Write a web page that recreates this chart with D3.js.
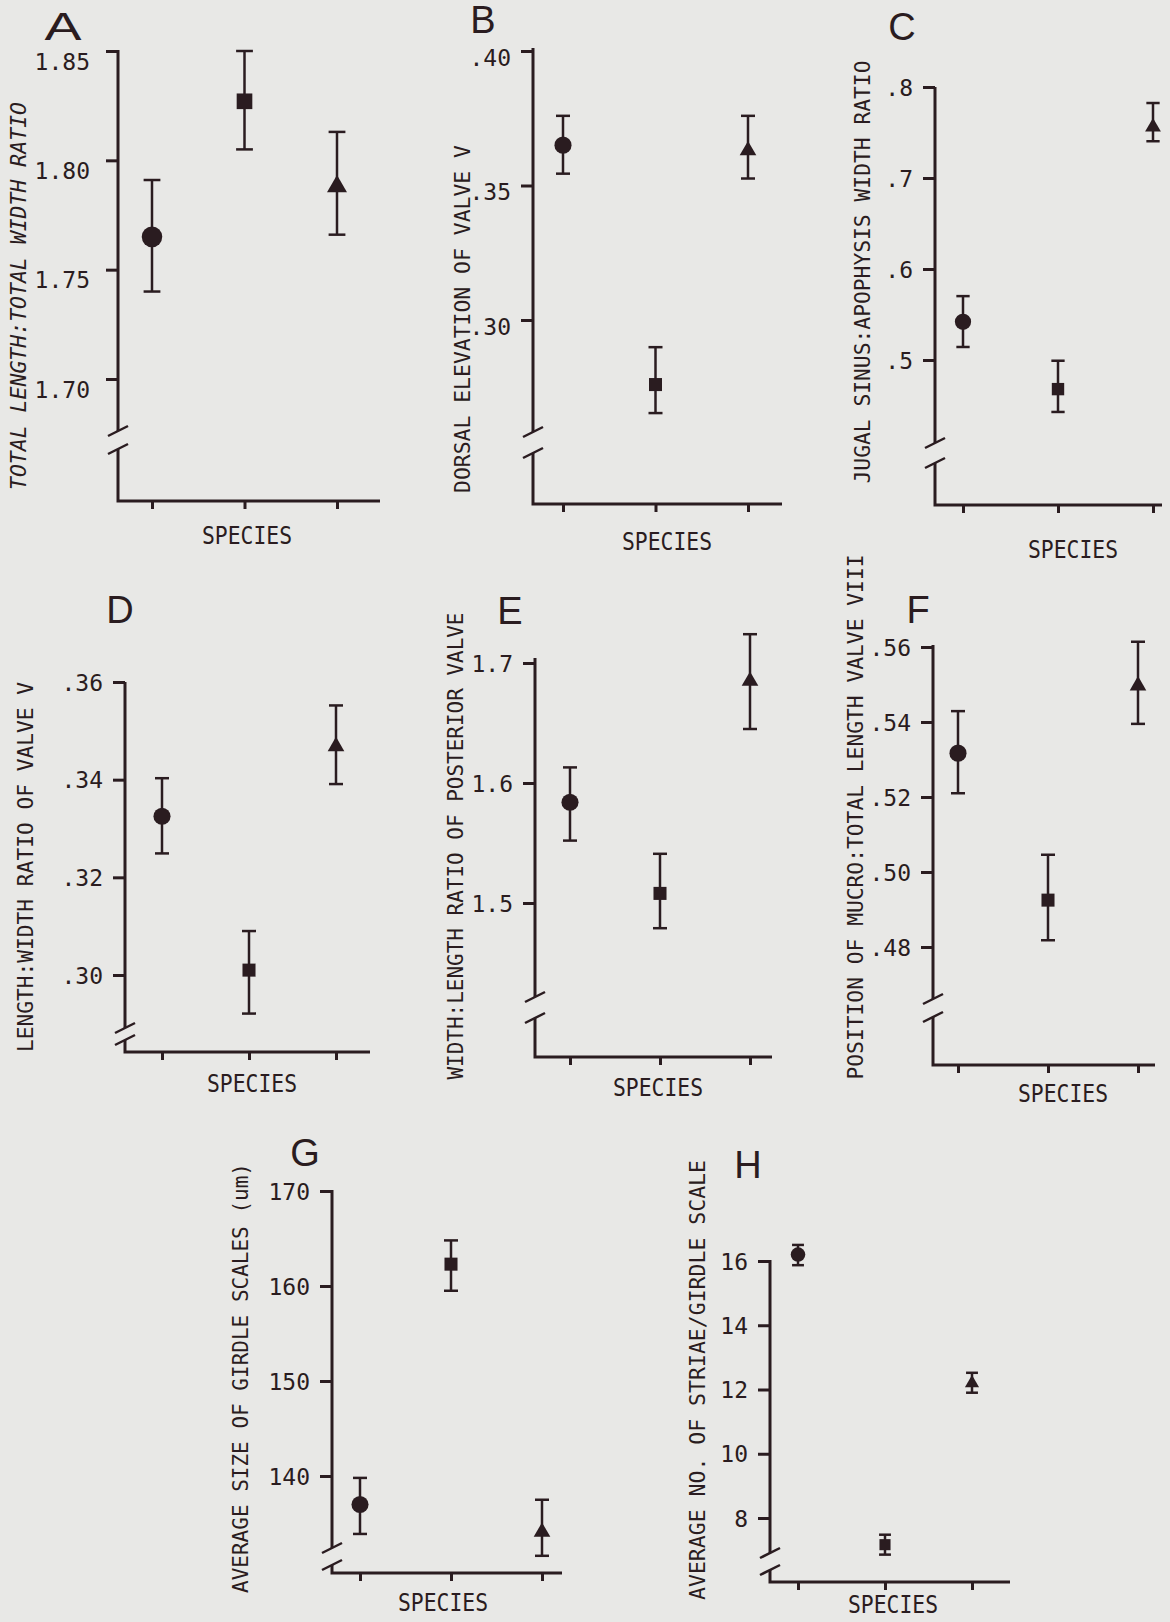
<!DOCTYPE html>
<html>
<head>
<meta charset="utf-8">
<script src="https://cdn.jsdelivr.net/npm/d3@7"></script>
<style>
    body { margin: 0; background: #e8e8e6; }
    svg { display: block; }
</style>
</head>
<body>
<div id="figure"></div>
<script>

// Data (three species per panel: circle, square, triangle)
const speciesNames = ["Species 1", "Species 2", "Species 3"];
const speciesShapes = ["circle", "square", "triangle"];
const panelLetters = ["A", "B", "C", "D", "E", "F", "G", "H"];
const yTitles = [
    "TOTAL LENGTH:TOTAL WIDTH RATIO",
    "DORSAL ELEVATION OF VALVE V",
    "JUGAL SINUS:APOPHYSIS WIDTH RATIO",
    "LENGTH:WIDTH RATIO OF VALVE V",
    "WIDTH:LENGTH RATIO OF POSTERIOR VALVE",
    "POSITION OF MUCRO:TOTAL LENGTH VALVE VIII",
    "AVERAGE SIZE OF GIRDLE SCALES (um)",
    "AVERAGE NO. OF STRIAE/GIRDLE SCALE"
];
const xTitle = "SPECIES";
const yTickValues = [
    [1.70, 1.75, 1.80, 1.85],
    [0.30, 0.35, 0.40],
    [0.5, 0.6, 0.7, 0.8],
    [0.30, 0.32, 0.34, 0.36],
    [1.5, 1.6, 1.7],
    [0.48, 0.50, 0.52, 0.54, 0.56],
    [140, 150, 160, 170],
    [8, 10, 12, 14, 16]
];
const yTickLabels = [
    ["1.70", "1.75", "1.80", "1.85"],
    [".30", ".35", ".40"],
    [".5", ".6", ".7", ".8"],
    [".30", ".32", ".34", ".36"],
    ["1.5", "1.6", "1.7"],
    [".48", ".50", ".52", ".54", ".56"],
    ["140", "150", "160", "170"],
    ["8", "10", "12", "14", "16"]
];
const means = [
    [1.765, 1.827, 1.788],
    [0.365, 0.276, 0.363],
    [0.542, 0.468, 0.756],
    [0.3325, 0.301, 0.3468],
    [1.584, 1.508, 1.685],
    [0.5317, 0.4925, 0.5497],
    [137.0, 162.3, 134.1],
    [16.2, 7.17, 12.2]
];
const lowerBars = [
    [1.740, 1.805, 1.766],
    [0.3544, 0.2654, 0.3526],
    [0.5143, 0.4429, 0.7404],
    [0.3249, 0.2921, 0.3391],
    [1.552, 1.479, 1.645],
    [0.521, 0.4818, 0.5395],
    [133.9, 159.5, 131.6],
    [15.87, 6.86, 11.9]
];
const upperBars = [
    [1.791, 1.850, 1.813],
    [0.3759, 0.2899, 0.3759],
    [0.5702, 0.4992, 0.7824],
    [0.3403, 0.309, 0.3552],
    [1.613, 1.541, 1.724],
    [0.5429, 0.5046, 0.5614],
    [139.8, 164.8, 137.5],
    [16.5, 7.48, 12.52]
];

// Page layout of each panel (pixels)
const layout = [
    {axisX: 118, top: 50, base: 501, right: 380, brk: [431, 449], cats: [152, 337], yPix: [379, 51],
        letter: [63, 27], letterW: 37, titleX: 18, titleY: 296, titleLen: 388, italic: true,
        species: [247, 535], tickDy: 10, tickPad: 16, mark: 1.2},
    {axisX: 533, top: 48, base: 504, right: 782, brk: [432, 453], cats: [563, 748], yPix: [320, 51],
        letter: [483, 20], titleX: 462, titleY: 319, titleLen: 348, species: [667, 541], tickDy: 6, mark: 1},
    {axisX: 935, top: 87, base: 505, right: 1162, brk: [443, 463], cats: [963, 1153], yPix: [360, 87],
        letter: [902, 27], titleX: 862, titleY: 272, titleLen: 423, species: [1073, 549], mark: 0.95},
    {axisX: 125, top: 682, base: 1052, right: 370, brk: [1028, 1040], cats: [162, 336], yPix: [975, 682],
        letter: [120, 610], titleX: 25, titleY: 867, titleLen: 370, species: [252, 1083], mark: 1},
    {axisX: 535, top: 658, base: 1057, right: 772, brk: [997, 1018], cats: [570, 750], yPix: [903, 663],
        letter: [510, 611], titleX: 455, titleY: 846, titleLen: 467, species: [658, 1087], mark: 1},
    {axisX: 933, top: 645, base: 1065, right: 1155, brk: [999, 1017], cats: [958, 1138], yPix: [947, 647],
        letter: [918, 610], titleX: 855, titleY: 817, titleLen: 525, species: [1063, 1093], mark: 1},
    {axisX: 332, top: 1190, base: 1573, right: 562, brk: [1548, 1565], cats: [360, 542], yPix: [1476, 1191],
        letter: [305, 1153], titleX: 240, titleY: 1378, titleLen: 430, species: [443, 1602], mark: 1},
    {axisX: 770, top: 1260, base: 1582, right: 1010, brk: [1553, 1570], cats: [798, 972], yPix: [1518, 1261],
        letter: [748, 1165], titleX: 697, titleY: 1380, titleLen: 440, species: [893, 1604], mark: 0.85}
];

const INK = "#2a1c20";
const MONO = "'DejaVu Sans Mono', 'Liberation Mono', monospace";

class ErrorBarPanel {

    constructor(svg, index) {
        const vis = this;
        vis.svg = svg;
        vis.i = index;
        vis.box = layout[index];
        vis.initVis();
    }

    initVis() {
        const vis = this;
        const b = vis.box;
        const ticks = yTickValues[vis.i];

        vis.g = vis.svg.append("g").attr("class", "panel panel-" + panelLetters[vis.i]);

        // Scales
        vis.y = d3.scaleLinear()
            .domain([ticks[0], ticks[ticks.length - 1]])
            .range(b.yPix);
        vis.x = d3.scalePoint()
            .domain(speciesNames)
            .range(b.cats);

        // y axis ticks + labels (axis line is drawn by hand because of the break)
        vis.yAxis = d3.axisLeft(vis.y)
            .tickValues(ticks)
            .tickFormat((d, k) => yTickLabels[vis.i][k])
            .tickSize(12)
            .tickPadding(b.tickPad || 10);
        let yAxisGroup = vis.g.append("g")
            .attr("transform", "translate(" + b.axisX + ",0)")
            .call(vis.yAxis);
        yAxisGroup.select(".domain").remove();
        yAxisGroup.selectAll("line").attr("stroke", INK).attr("stroke-width", 3);
        yAxisGroup.selectAll("text")
            .attr("fill", INK)
            .attr("font-family", MONO)
            .attr("font-size", 23)
            .attr("dy", (b.tickDy ? b.tickDy : 0) + 8);

        // x axis ticks
        vis.xAxis = d3.axisBottom(vis.x)
            .tickSize(8)
            .tickFormat("");
        let xAxisGroup = vis.g.append("g")
            .attr("transform", "translate(0," + b.base + ")")
            .call(vis.xAxis);
        xAxisGroup.select(".domain").remove();
        xAxisGroup.selectAll("line").attr("stroke", INK).attr("stroke-width", 3);

        // Axis lines with a break on the y axis
        let axisPath = d3.path();
        axisPath.moveTo(b.axisX, b.top);
        axisPath.lineTo(b.axisX, b.brk[0]);
        axisPath.moveTo(b.axisX, b.brk[1]);
        axisPath.lineTo(b.axisX, b.base);
        axisPath.lineTo(b.right, b.base);
        vis.g.append("path")
            .attr("d", axisPath.toString())
            .attr("fill", "none")
            .attr("stroke", INK)
            .attr("stroke-width", 3);

        vis.g.selectAll(".break")
            .data(b.brk)
            .enter().append("line")
            .attr("class", "break")
            .attr("x1", b.axisX - 10).attr("y1", d => d + 5)
            .attr("x2", b.axisX + 10).attr("y2", d => d - 5)
            .attr("stroke", INK)
            .attr("stroke-width", 2.5);

        // Titles
        vis.g.append("text")
            .attr("transform", "translate(" + b.titleX + "," + b.titleY + ") rotate(-90)")
            .attr("text-anchor", "middle")
            .attr("dominant-baseline", "central")
            .attr("font-family", MONO)
            .attr("font-size", 22)
            .attr("font-style", b.italic ? "italic" : "normal")
            .attr("textLength", b.titleLen)
            .attr("lengthAdjust", "spacingAndGlyphs")
            .attr("fill", INK)
            .text(yTitles[vis.i]);

        vis.g.append("text")
            .attr("x", b.species[0])
            .attr("y", b.species[1])
            .attr("text-anchor", "middle")
            .attr("dominant-baseline", "central")
            .attr("font-family", MONO)
            .attr("font-size", 25)
            .attr("textLength", 90)
            .attr("lengthAdjust", "spacingAndGlyphs")
            .attr("fill", INK)
            .text(xTitle);

        let letter = vis.g.append("text")
            .attr("x", b.letter[0])
            .attr("y", b.letter[1])
            .attr("text-anchor", "middle")
            .attr("dominant-baseline", "central")
            .attr("font-family", "'Liberation Sans', Arial, sans-serif")
            .attr("font-size", 38)
            .attr("fill", INK)
            .text(panelLetters[vis.i]);
        if (b.letterW) {
            letter.attr("textLength", b.letterW).attr("lengthAdjust", "spacingAndGlyphs");
        }

        vis.updateVis();
    }

    updateVis() {
        const vis = this;
        const m = vis.box.mark;

        let rows = speciesNames.map((name, k) => ({
            name: name,
            shape: speciesShapes[k],
            mean: means[vis.i][k],
            lo: lowerBars[vis.i][k],
            hi: upperBars[vis.i][k]
        }));

        let cap = 7 * m;
        let pts = vis.g.selectAll(".pt")
            .data(rows)
            .enter().append("g")
            .attr("class", "pt")
            .attr("transform", d => "translate(" + vis.x(d.name) + ",0)");

        pts.append("line")
            .attr("x1", 0).attr("x2", 0)
            .attr("y1", d => vis.y(d.lo))
            .attr("y2", d => vis.y(d.hi))
            .attr("stroke", INK).attr("stroke-width", 2.5);
        pts.append("line")
            .attr("x1", -cap).attr("x2", cap)
            .attr("y1", d => vis.y(d.hi)).attr("y2", d => vis.y(d.hi))
            .attr("stroke", INK).attr("stroke-width", 2.5);
        pts.append("line")
            .attr("x1", -cap).attr("x2", cap)
            .attr("y1", d => vis.y(d.lo)).attr("y2", d => vis.y(d.lo))
            .attr("stroke", INK).attr("stroke-width", 2.5);

        let symbolType = {circle: d3.symbolCircle, square: d3.symbolSquare, triangle: d3.symbolTriangle};
        let symbolSize = {circle: 230, square: 170, triangle: 120};
        pts.append("path")
            .attr("transform", d => "translate(0," + vis.y(d.mean) + ")")
            .attr("d", d => d3.symbol().type(symbolType[d.shape]).size(symbolSize[d.shape] * m * m)())
            .attr("fill", INK);
    }
}

const svg = d3.select("#figure").append("svg")
    .attr("width", 1170)
    .attr("height", 1622);

svg.append("rect")
    .attr("width", 1170)
    .attr("height", 1622)
    .attr("fill", "#e8e8e6");

panelLetters.forEach((p, i) => new ErrorBarPanel(svg, i));

</script>
</body>
</html>
